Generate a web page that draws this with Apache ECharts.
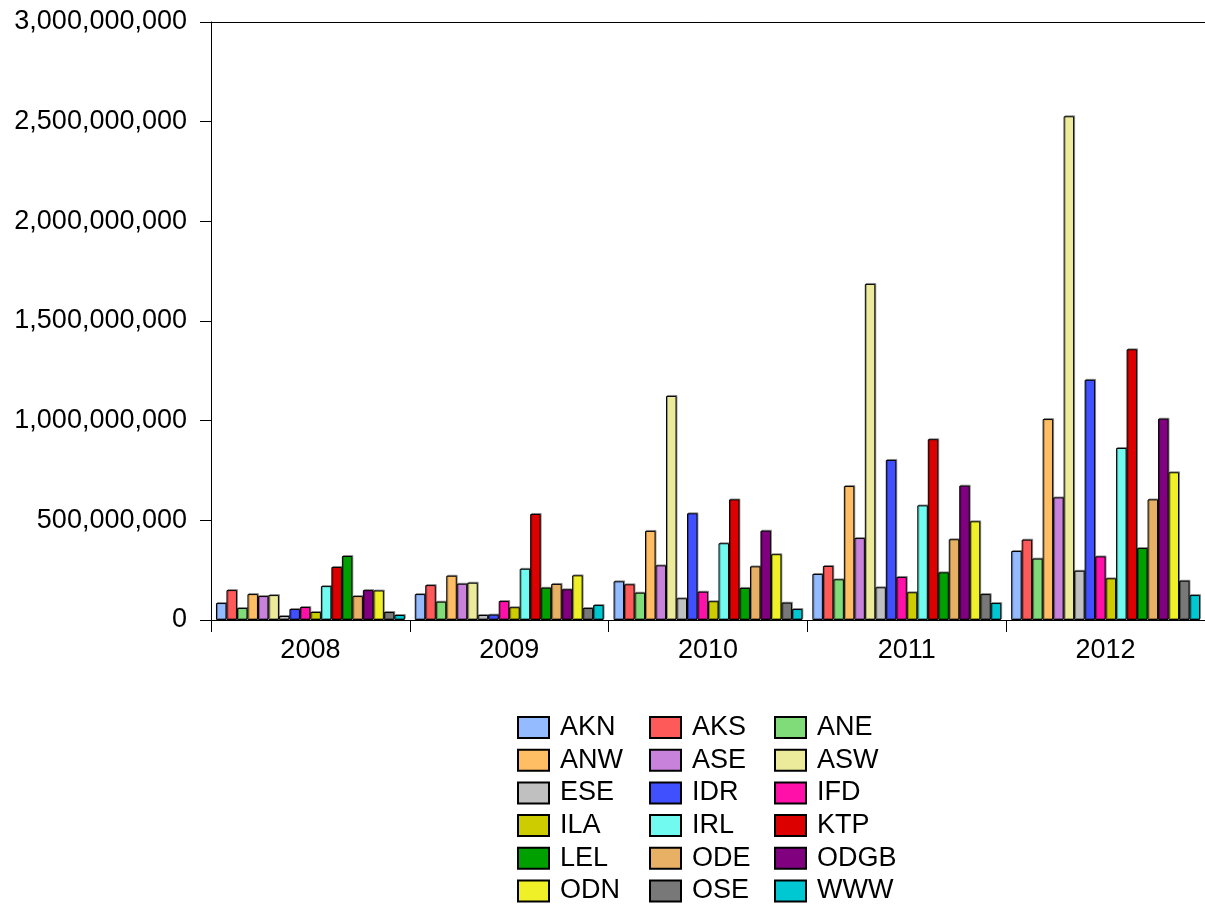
<!DOCTYPE html>
<html>
<head>
<meta charset="utf-8">
<script src="https://cdn.jsdelivr.net/npm/echarts@6/dist/echarts.min.js"></script>
<style>html,body{margin:0;padding:0;background:#fff}#c{width:1205px;height:905px}</style>
</head>
<body>
<div id="c"></div>
<script>
const categories = ['2008', '2009', '2010', '2011', '2012'];
const yTicks = [0, 500000000, 1000000000, 1500000000, 2000000000, 2500000000, 3000000000];

const AKN  = [85000000, 130000000, 194000000, 231000000, 346000000];
const AKS  = [150000000, 175000000, 179000000, 271000000, 403000000];
const ANE  = [60000000, 92000000, 137000000, 204000000, 308000000];
const ANW  = [130000000, 222000000, 447000000, 672000000, 1008000000];
const ASE  = [120000000, 182000000, 274000000, 411000000, 615000000];
const ASW  = [125000000, 187000000, 1124000000, 1686000000, 2527000000];
const ESE  = [20000000, 25000000, 109000000, 164000000, 247000000];
const IDR  = [55000000, 27000000, 535000000, 803000000, 1205000000];
const IFD  = [65000000, 95000000, 142000000, 216000000, 319000000];
const ILA  = [40000000, 64000000, 94000000, 139000000, 209000000];
const IRL  = [170000000, 257000000, 385000000, 575000000, 863000000];
const KTP  = [266000000, 532000000, 605000000, 907000000, 1358000000];
const LEL  = [321000000, 162000000, 161000000, 239000000, 361000000];
const ODE  = [120000000, 181000000, 269000000, 405000000, 605000000];
const ODGB = [150000000, 154000000, 448000000, 674000000, 1010000000];
const ODN  = [148000000, 224000000, 330000000, 495000000, 741000000];
const OSE  = [40000000, 60000000, 87000000, 130000000, 197000000];
const WWW  = [25000000, 75000000, 55000000, 85000000, 125000000];

const seriesNames = ['AKN','AKS','ANE','ANW','ASE','ASW','ESE','IDR','IFD','ILA','IRL','KTP','LEL','ODE','ODGB','ODN','OSE','WWW'];
const seriesValues = [AKN,AKS,ANE,ANW,ASE,ASW,ESE,IDR,IFD,ILA,IRL,KTP,LEL,ODE,ODGB,ODN,OSE,WWW];
const seriesColors = ['#94BAFF','#FF5A5A','#80DC78','#FFBE64','#C882DC','#EBEB9B','#C0C0C0','#4050FF','#FF10A8','#CCCC00','#70FAF0','#DC0000','#00A000','#E8B064','#800080','#F0F028','#787878','#00C8D2'];

const FONT = 'Liberation Sans, Arial, sans-serif';

function fmt(v) {
  return String(v).replace(/\B(?=(\d{3})+(?!\d))/g, ',');
}

const series = seriesNames.map((n, i) => ({
  name: n,
  type: 'bar',
  data: seriesValues[i],
  barGap: '0%',
  barCategoryGap: '5%',
  itemStyle: {
    color: seriesColors[i],
    borderColor: '#000',
    borderWidth: 1,
    shadowColor: 'rgba(0,0,0,0.35)',
    shadowOffsetX: 1,
    shadowOffsetY: -1,
    shadowBlur: 0
  },
  emphasis: { disabled: true },
  animation: false
}));

const cols = [
  ['AKN','ANW','ESE','ILA','LEL','ODN'],
  ['AKS','ASE','IDR','IRL','ODE','OSE'],
  ['ANE','ASW','IFD','KTP','ODGB','WWW']
];
const colLeft = [517, 649, 774];
const legends = cols.map((d, i) => ({
  data: d,
  orient: 'vertical',
  left: colLeft[i],
  top: 714,
  height: 200,
  padding: 0,
  itemWidth: 31,
  itemHeight: 21,
  itemGap: 5.7,
  selectedMode: false,
  icon: 'rect',
  textStyle: { fontFamily: FONT, fontSize: 27, color: '#000', padding: [0, 0, 0, 6] }
}));

const chart = echarts.init(document.getElementById('c'), null, { renderer: 'canvas' });
chart.setOption({
  backgroundColor: '#fff',
  animation: false,
  grid: { left: 211, right: 0, top: 22, bottom: 285, containLabel: false },
  legend: legends,
  xAxis: [{
    type: 'category',
    data: categories,
    position: 'bottom',
    axisLine: { show: true, lineStyle: { color: '#000', width: 1 } },
    axisTick: { show: true, length: 12, lineStyle: { color: '#000' } },
    axisLabel: { fontFamily: FONT, fontSize: 27, color: '#000', margin: 17 },
    splitLine: { show: false }
  }, {
    type: 'category',
    data: categories,
    position: 'top',
    axisLine: { show: true, lineStyle: { color: '#000', width: 1 } },
    axisTick: { show: false },
    axisLabel: { show: false },
    splitLine: { show: false }
  }],
  yAxis: {
    type: 'value',
    min: yTicks[0],
    max: yTicks[yTicks.length - 1],
    interval: yTicks[1] - yTicks[0],
    axisLine: { show: true, lineStyle: { color: '#000', width: 1 } },
    axisTick: { show: true, length: 11, lineStyle: { color: '#000' } },
    axisLabel: { fontFamily: FONT, fontSize: 27, color: '#000', margin: 24, formatter: fmt },
    splitLine: { show: false }
  },
  series: series
});
</script>
</body>
</html>
